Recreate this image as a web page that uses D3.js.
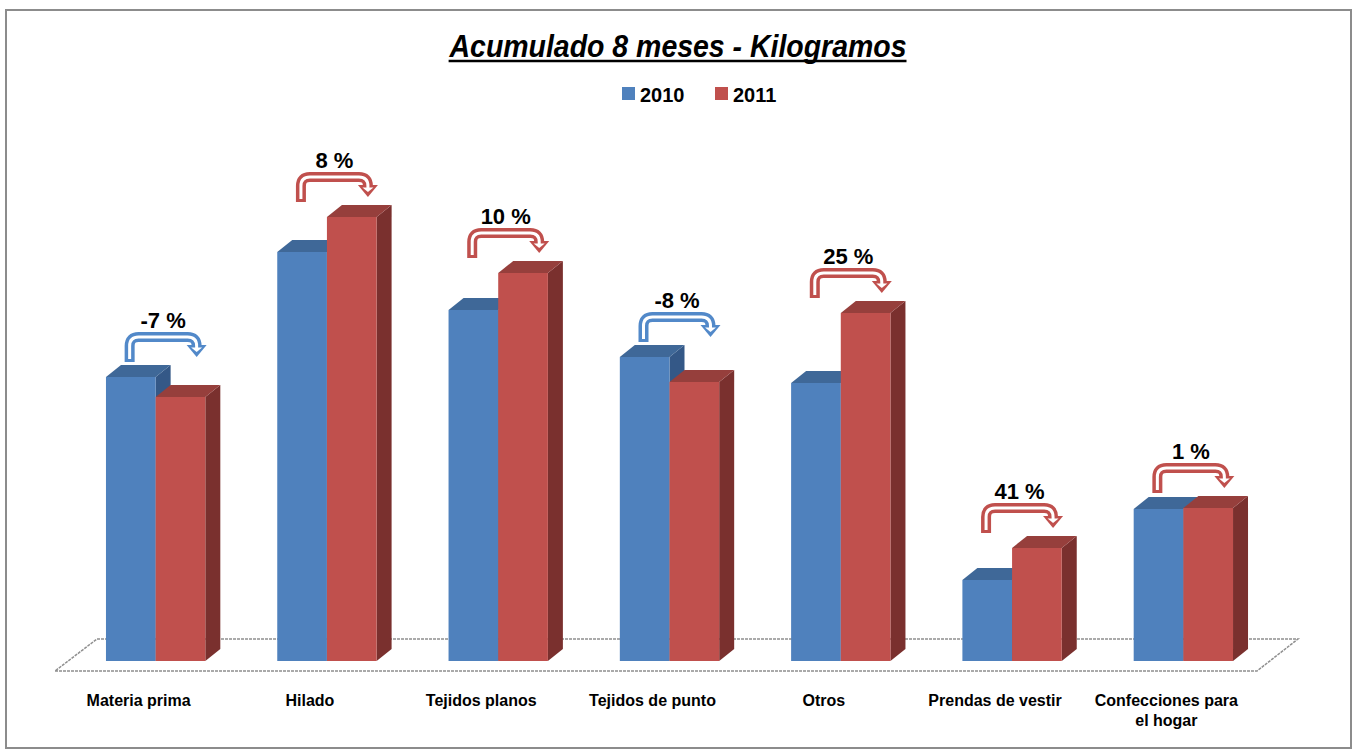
<!DOCTYPE html>
<html>
<head>
<meta charset="utf-8">
<script src="https://cdn.jsdelivr.net/npm/d3@7"></script>
<style>
  body { margin: 0; background: #fff; }
  text { font-family: "Liberation Sans Narrow", "Arial Narrow", "Liberation Sans", Arial, sans-serif; }
</style>
</head>
<body>
<svg id="svgMain" width="1353" height="751"></svg>
<script>
// data (heights in arbitrary units)
const categories = ["Materia prima", "Hilado", "Tejidos planos", "Tejidos de punto", "Otros", "Prendas de vestir", "Confecciones para|el hogar"];
const seriesNames = ["2010", "2011"];
const values2010 = [284, 409, 351, 304, 278, 81, 152];
const values2011 = [264, 444, 388, 279, 348, 113, 153];
const changeLabels = ["-7 %", "8 %", "10 %", "-8 %", "25 %", "41 %", "1 %"];

const frontColors = ["#4F81BD", "#C0504D"];
const topColors = ["#3F6898", "#963F3C"];
const sideColors = ["#345887", "#7A302E"];
const arrowColors = { neg: "#5289C9", pos: "#C0504D" };

let svgMain = d3.select("#svgMain");

// depth of the 3d look
const dx = 15, dy = 12;

// outer border
svgMain.append("rect")
    .attr("x", 6).attr("y", 10)
    .attr("width", 1345).attr("height", 738)
    .attr("fill", "white")
    .attr("stroke", "#8c8c8c")
    .attr("stroke-width", 2);

// Title
let title = svgMain.append("text")
    .attr("x", 678)
    .attr("y", 57)
    .attr("font-size", "32px")
    .attr("font-weight", "bold")
    .attr("font-style", "italic")
    .attr("text-anchor", "middle")
    .attr("textLength", 457)
    .attr("lengthAdjust", "spacingAndGlyphs")
    .text("Acumulado 8 meses - Kilogramos");
let tb = title.node().getBBox();
svgMain.append("line")
    .attr("x1", tb.x).attr("x2", tb.x + tb.width)
    .attr("y1", 61).attr("y2", 61)
    .attr("stroke", "black").attr("stroke-width", 2.5);

// Legend
const legendX = [622, 715];
seriesNames.forEach((s, i) => {
    svgMain.append("rect")
        .attr("x", legendX[i]).attr("y", 87)
        .attr("width", 13).attr("height", 13)
        .attr("fill", frontColors[i]);
    svgMain.append("text")
        .attr("x", legendX[i] + 18).attr("y", 102)
        .attr("font-size", "20px").attr("font-weight", "bold")
        .text(s);
});

// Scales
const xScale = d3.scaleBand()
    .domain(categories)
    .range([70, 1269])
    .paddingInner(0.42)
    .paddingOuter(0.21);

const seriesScale = d3.scaleBand()
    .domain(seriesNames)
    .range([0, xScale.bandwidth()]);

const baseY = 661;
const yScale = d3.scaleLinear()
    .domain([0, 500])
    .range([baseY, baseY - 500]);

// Floor
const x0 = xScale.range()[0], x1 = xScale.range()[1];
const floorPts = [[x0 - 15, baseY + 10], [x1 - 12, baseY + 10], [x1 + 29, baseY - 22], [x0 + 27, baseY - 22]];
svgMain.append("polygon")
    .attr("points", floorPts.map(p => p.join(",")).join(" "))
    .attr("fill", "white")
    .attr("stroke", "#8f8f8f")
    .attr("stroke-width", 1.5)
    .attr("stroke-dasharray", "3,1");

const plot = svgMain.append("g");

// Bars
categories.forEach((c, ci) => {
    const vals = [values2010[ci], values2011[ci]];
    seriesNames.forEach((s, si) => {
        const bx = xScale(c) + seriesScale(s);
        const bw = seriesScale.bandwidth();
        const ty = yScale(vals[si]);
        const g = plot.append("g");
        // side
        g.append("polygon")
            .attr("points", [[bx + bw, ty], [bx + bw + dx, ty - dy], [bx + bw + dx, baseY - dy], [bx + bw, baseY]].map(p => p.join(",")).join(" "))
            .attr("fill", sideColors[si]);
        // top
        g.append("polygon")
            .attr("points", [[bx, ty], [bx + dx, ty - dy], [bx + bw + dx, ty - dy], [bx + bw, ty]].map(p => p.join(",")).join(" "))
            .attr("fill", topColors[si]);
        // front
        g.append("rect")
            .attr("x", bx).attr("y", ty)
            .attr("width", bw).attr("height", baseY - ty)
            .attr("fill", frontColors[si]);
    });
});

// Change arrows + labels
categories.forEach((c, ci) => {
    const center = xScale(c) + xScale.bandwidth() / 2;
    const topY = Math.min(yScale(values2010[ci]), yScale(values2011[ci]));
    const color = values2011[ci] < values2010[ci] ? arrowColors.neg : arrowColors.pos;
    const ax0 = center - 26, ax1 = center + 41;
    const yb = topY - 15;
    const yt = yb - 30;
    const yc = yt + 5;
    const r = 9;
    const hb = yt + 13;
    const tip = yt + 25;

    const pathD = `M${ax0},${yb} L${ax0},${yc + r} Q${ax0},${yc} ${ax0 + r},${yc} L${ax1 - r},${yc} Q${ax1},${yc} ${ax1},${yc + r} L${ax1},${hb + 1}`;
    const innerD = `M${ax0},${yb - 3} L${ax0},${yc + r} Q${ax0},${yc} ${ax0 + r},${yc} L${ax1 - r},${yc} Q${ax1},${yc} ${ax1},${yc + r} L${ax1},${hb + 3}`;

    plot.append("path").attr("d", pathD)
        .attr("fill", "none").attr("stroke", color).attr("stroke-width", 10);
    plot.append("polygon")
        .attr("points", [[ax1 - 10, hb], [ax1 + 10, hb], [ax1, tip]].map(p => p.join(",")).join(" "))
        .attr("fill", color);
    plot.append("path").attr("d", innerD)
        .attr("fill", "none").attr("stroke", "white").attr("stroke-width", 3);
    plot.append("polygon")
        .attr("points", [[ax1 - 5.5, hb + 2.5], [ax1 + 5.5, hb + 2.5], [ax1, tip - 5]].map(p => p.join(",")).join(" "))
        .attr("fill", "white");

    plot.append("text")
        .attr("x", (ax0 + ax1) / 2)
        .attr("y", yt - 4)
        .attr("text-anchor", "middle")
        .attr("font-size", "22px")
        .attr("font-weight", "bold")
        .text(changeLabels[ci]);
});

// Category labels
categories.forEach(c => {
    const lines = c.split("|");
    const cx = xScale(c) + xScale.bandwidth() / 2 - 17;
    const t = svgMain.append("text")
        .attr("x", cx)
        .attr("y", 706)
        .attr("text-anchor", "middle")
        .attr("font-size", "16px")
        .attr("font-weight", "bold");
    lines.forEach((l, i) => {
        t.append("tspan")
            .attr("x", cx)
            .attr("dy", i === 0 ? 0 : 20)
            .text(l);
    });
});
</script>
</body>
</html>
